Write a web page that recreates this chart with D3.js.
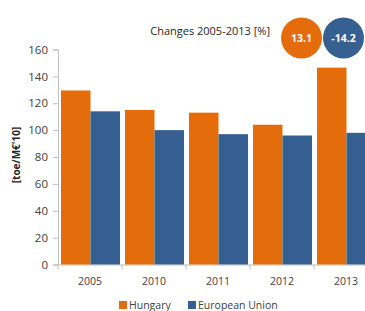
<!DOCTYPE html>
<html>
<head>
<meta charset="utf-8">
<script src="https://cdn.jsdelivr.net/npm/d3@7"></script>
<style>
  body { margin: 0; background: #fff; }
  svg { display: block; font-family: "Open Sans", sans-serif; }
</style>
</head>
<body>
<div id="chart"></div>
<script>
const years = ["2005", "2010", "2011", "2012", "2013"];
const hungary = [129.5, 115, 113, 104, 146.5];
const eu = [114, 100, 97, 96, 98];
const seriesNames = ["Hungary", "European Union"];
const changes = ["13.1", "-14.2"];
const yTicks = [0, 20, 40, 60, 80, 100, 120, 140, 160];

const colors = ["#E46C0A", "#376092"];
const width = 365, height = 311;

const svg = d3.select("#chart").append("svg")
    .attr("width", width)
    .attr("height", height);

// Scales
const x = d3.scaleBand()
    .domain(years)
    .range([58, 58 + 64 * years.length])
    .paddingInner(0)
    .paddingOuter(0);

const y = d3.scaleLinear()
    .domain([0, 160])
    .range([264.5, 49.5]);

const inner = d3.scaleBand()
    .domain(seriesNames)
    .range([3, 62]);

// Y axis
const yAxis = svg.append("g")
    .attr("transform", "translate(58,0)")
    .call(d3.axisLeft(y).tickValues(yTicks).tickSize(5).tickPadding(5));
yAxis.select(".domain").attr("stroke", "#bfbfbf");
yAxis.selectAll(".tick line").attr("stroke", "#bfbfbf");
yAxis.selectAll(".tick text")
    .attr("font-size", 11.5)
    .attr("fill", "#404040")
    .attr("font-family", "Open Sans, sans-serif");

// X axis
const xAxis = svg.append("g")
    .attr("transform", `translate(0,${y(0)})`)
    .call(d3.axisBottom(x).tickSize(0).tickPadding(13));
xAxis.select(".domain").attr("stroke", "#bfbfbf");
xAxis.selectAll(".tick text")
    .attr("font-size", 10.5)
    .attr("fill", "#404040")
    .attr("font-family", "Open Sans, sans-serif");
// tick marks at band boundaries
xAxis.selectAll(".sep")
    .data(years)
    .enter()
    .append("line")
    .attr("x1", d => x(d))
    .attr("x2", d => x(d))
    .attr("y1", 0)
    .attr("y2", 5)
    .attr("stroke", "#bfbfbf");

// Bars
const groups = svg.append("g")
    .selectAll("g")
    .data(years.map((yr, i) => ({ year: yr, values: [hungary[i], eu[i]] })))
    .enter()
    .append("g")
    .attr("transform", d => `translate(${x(d.year)},0)`);

groups.selectAll("rect")
    .data(d => d.values.map((v, j) => ({ name: seriesNames[j], value: v, j })))
    .enter()
    .append("rect")
    .attr("x", d => inner(d.name))
    .attr("width", inner.bandwidth())
    .attr("y", d => y(d.value))
    .attr("height", d => y(0) - y(d.value))
    .attr("fill", d => colors[d.j]);

// Y axis title
svg.append("text")
    .attr("transform", "translate(20,155) rotate(-90)")
    .attr("text-anchor", "middle")
    .attr("font-size", 10)
    .attr("font-weight", "bold")
    .attr("fill", "#262626")
    .text("[toe/M€'10]");

// Changes title and circles
svg.append("text")
    .attr("x", 270)
    .attr("y", 35)
    .attr("text-anchor", "end")
    .attr("font-size", 11)
    .attr("fill", "#262626")
    .text("Changes 2005-2013 [%]");

const bubbleX = [301.5, 343.5];
changes.forEach((c, i) => {
    svg.append("circle")
        .attr("cx", bubbleX[i])
        .attr("cy", 38)
        .attr("r", 20.5)
        .attr("fill", colors[i]);
    svg.append("text")
        .attr("x", bubbleX[i])
        .attr("y", 38)
        .attr("dy", "0.35em")
        .attr("text-anchor", "middle")
        .attr("font-size", 10.5)
        .attr("font-weight", "bold")
        .attr("fill", "#fff")
        .text(c);
});

// Legend
const legendX = [119, 188];
seriesNames.forEach((s, i) => {
    svg.append("rect")
        .attr("x", legendX[i])
        .attr("y", 301)
        .attr("width", 8)
        .attr("height", 8)
        .attr("fill", colors[i]);
    svg.append("text")
        .attr("x", legendX[i] + 10)
        .attr("y", 305)
        .attr("dy", "0.35em")
        .attr("font-size", 10.5)
        .attr("fill", "#404040")
        .text(s);
});
</script>
</body>
</html>
